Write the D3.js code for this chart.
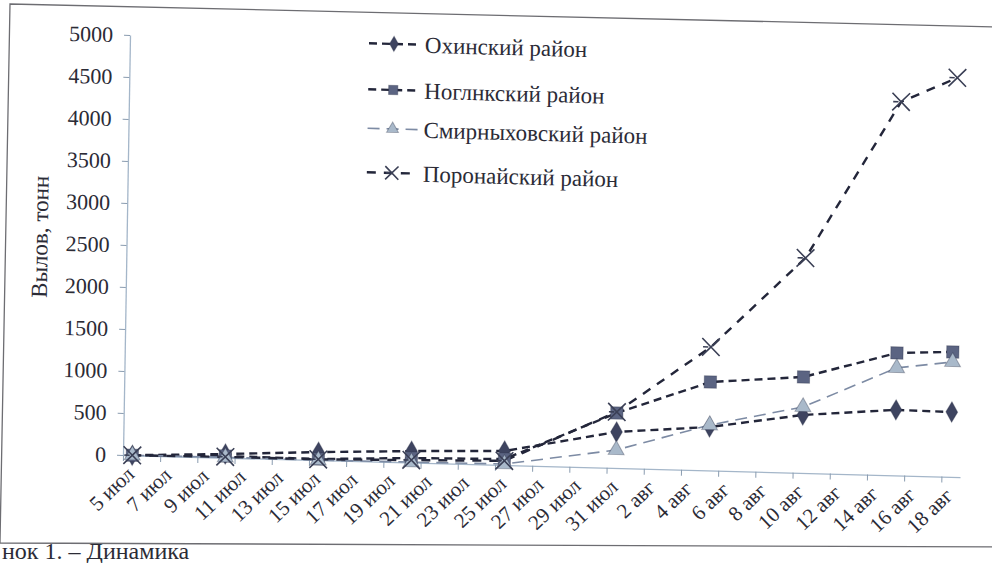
<!DOCTYPE html>
<html>
<head>
<meta charset="utf-8">
<script src="https://cdn.jsdelivr.net/npm/d3@7"></script>
<style>
  body { margin: 0; background: #fff; }
  text { font-family: "Liberation Serif", "Times New Roman", serif; fill: #2b2b36; }
</style>
</head>
<body>
<svg width="992" height="563"></svg>
<script>
// dates of the observations
const dates = ["2011-07-05", "2011-07-10", "2011-07-15", "2011-07-20", "2011-07-25",
               "2011-07-31", "2011-08-05", "2011-08-10", "2011-08-15", "2011-08-18"];
// catch, tonnes
const ohaValues   = [0, 44, 96, 137, 167, 429, 517, 689, 779, 771];
const nogValues   = [0, 20, 13, 54, 71, 655, 1052, 1142, 1457, 1486];
const smirValues  = [0, 5, 0, 6, 12, 214, 540, 785, 1279, 1367];
const poronValues = [0, 10, 10, 30, 50, 667, 1469, 2558, 4446, 4750];
const seriesNames = ["Охинский район", "Ноглнкский район", "Смирныховский район", "Поронайский район"];
const yTicks = [0, 500, 1000, 1500, 2000, 2500, 3000, 3500, 4000, 4500, 5000];
const monthNames = ["янв", "фев", "мар", "апр", "май", "июн", "июл", "авг", "сен", "окт", "ноя", "дек"];
const yTitle = "Вылов, тонн";
const caption = "нок 1. – Динамика";

const parse = d3.timeParse("%Y-%m-%d");
const dateObjs = dates.map(parse);
const start = parse("2011-07-05"), end = parse("2011-08-19");

const series = [
  { name: seriesNames[0], values: ohaValues,   stroke: "#23263a", dash: "8,5",  width: 2.4, marker: "diamond",  fill: "#3e4460" },
  { name: seriesNames[1], values: nogValues,   stroke: "#23263a", dash: "8,5",  width: 2.4, marker: "square",   fill: "#5b6482" },
  { name: seriesNames[2], values: smirValues,  stroke: "#7d8ba4", dash: "12,7", width: 1.6, marker: "triangle", fill: "#a9b9ca" },
  { name: seriesNames[3], values: poronValues, stroke: "#23263a", dash: "9,8",  width: 2.4, marker: "x",        fill: "#3a3f55" }
];

const svg = d3.select("svg");

// scan frame
svg.append("path")
  .attr("d", "M10,4 L1000,27 L1000,547 L0,543 Z")
  .attr("fill", "none")
  .attr("stroke", "#6d6d72")
  .attr("stroke-width", 1.3);

// the scanned chart is slightly skewed
const g = svg.append("g")
  .attr("transform", "matrix(1,0.0263,-0.0167,1,7.6,-3.23)");

const x = d3.scaleTime().domain([start, end]).range([123, 960]);
const y = d3.scaleLinear().domain([0, 5000]).range([455, 35]);

const tickDates = d3.timeDay.range(start, end, 2);
const xAxis = g.append("g")
  .attr("transform", "translate(0," + y(0) + ")")
  .call(d3.axisBottom(x)
    .tickValues(tickDates)
    .tickSize(6)
    .tickSizeOuter(0)
    .tickFormat(d => d.getDate() + " " + monthNames[d.getMonth()]));
xAxis.select(".domain").attr("stroke", "#a4b6c9").attr("stroke-width", 1.3);
xAxis.selectAll(".tick line").attr("stroke", "#8a9cb0");
xAxis.selectAll("text")
  .attr("font-size", 21)
  .attr("text-anchor", "end")
  .attr("dy", 0)
  .attr("transform", "translate(6,14) rotate(-45)");

const yAxis = g.append("g")
  .attr("transform", "translate(" + x(start) + ",0)")
  .call(d3.axisLeft(y)
    .tickValues(yTicks)
    .tickFormat(d3.format("d"))
    .tickSize(6)
    .tickSizeOuter(0)
    .tickPadding(11));
yAxis.select(".domain").attr("stroke", "#a4b6c9").attr("stroke-width", 1.3);
yAxis.selectAll(".tick line").attr("stroke", "#8a9cb0");
yAxis.selectAll("text").attr("font-size", 22);

g.append("text")
  .attr("transform", "translate(36,239) rotate(-90)")
  .attr("text-anchor", "middle")
  .attr("dy", "0.35em")
  .attr("font-size", 23)
  .text(yTitle);

function marker(sel, type, size) {
  if (type === "x") {
    const s = size * 0.55;
    sel.append("path")
      .attr("d", `M${-s},${-s}L${s},${s}M${-s},${s}L${s},${-s}M${-s * 0.9},0L${-s * 0.3},0`)
      .attr("fill", "none")
      .attr("stroke", "#3a3f55")
      .attr("stroke-width", 1.6);
  } else {
    const sym = { diamond: d3.symbolDiamond, square: d3.symbolSquare, triangle: d3.symbolTriangle }[type];
    const area = { diamond: 120, square: 150, triangle: 110 }[type] * (size / 16) * (size / 16);
    sel.append("path")
      .attr("d", d3.symbol().type(sym).size(area)())
      .attr("stroke", "rgba(40,45,70,0.35)")
      .attr("stroke-width", 1);
  }
}

const line = d3.line()
  .x((d, i) => x(d3.timeHour.offset(dateObjs[i], 12)))
  .y(d => y(d));

series.forEach(s => {
  g.append("path")
    .datum(s.values)
    .attr("d", line)
    .attr("fill", "none")
    .attr("stroke", s.stroke)
    .attr("stroke-width", s.width)
    .attr("stroke-dasharray", s.dash);
});

series.forEach(s => {
  g.selectAll(null)
    .data(s.values)
    .enter()
    .append("g")
    .attr("transform", (d, i) => "translate(" + x(d3.timeHour.offset(dateObjs[i], 12)) + "," + y(d) + ")")
    .attr("fill", s.fill)
    .each(function () { marker(d3.select(this), s.marker, 16); });
});

// legend
const legendY = [37, 83, 122, 166];
const legend = g.selectAll(".legend")
  .data(series)
  .enter()
  .append("g")
  .attr("class", "legend")
  .attr("transform", (d, i) => "translate(362," + legendY[i] + ")");
legend.append("line")
  .attr("x1", 0).attr("x2", 50)
  .attr("stroke", d => d.stroke)
  .attr("stroke-width", d => d.width)
  .attr("stroke-dasharray", d => d.dash);
legend.append("g")
  .attr("transform", "translate(25,0)")
  .attr("fill", d => d.fill)
  .each(function (d) { marker(d3.select(this), d.marker, 12); });
legend.append("text")
  .attr("x", 56)
  .attr("dy", "0.35em")
  .attr("font-size", 23)
  .text(d => d.name);

svg.append("text")
  .attr("x", 2)
  .attr("y", 559)
  .attr("font-size", 24)
  .text(caption);
</script>
</body>
</html>
